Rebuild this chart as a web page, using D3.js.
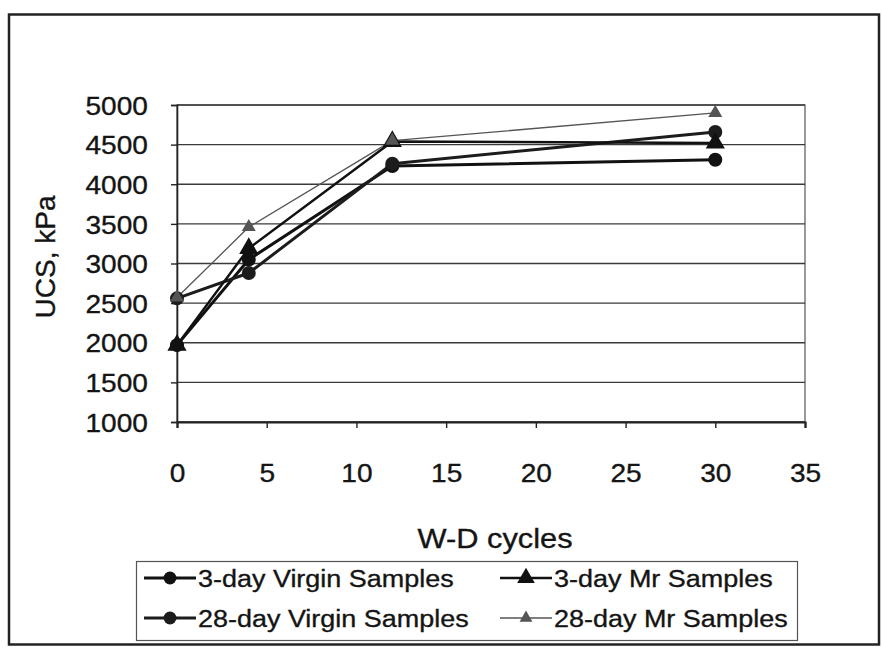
<!DOCTYPE html>
<html><head><meta charset="utf-8">
<script src="https://cdn.jsdelivr.net/npm/d3@7"></script>
<style>
html,body{margin:0;padding:0;background:#fff;}
text{font-family:"Liberation Sans",Arial,sans-serif;fill:#141414;stroke:#141414;stroke-width:0.35px;}
</style></head>
<body>
<svg id="chart" width="882" height="650"></svg>
<script>
const cycles = [0, 4, 12, 30];
const virgin3 = [1970, 3050, 4230, 4310];
const virgin28 = [2560, 2880, 4260, 4660];
const mr3 = [1970, 3190, 4540, 4520];
const mr28 = [2570, 3460, 4550, 4900];
const seriesNames = ["3-day Virgin Samples", "3-day Mr Samples", "28-day Virgin Samples", "28-day Mr Samples"];
const xTicks = [0, 5, 10, 15, 20, 25, 30, 35];
const yTicks = [1000, 1500, 2000, 2500, 3000, 3500, 4000, 4500, 5000];
const xTitle = "W-D cycles";
const yTitle = "UCS, kPa";

const series = [
  {name: seriesNames[0], values: virgin3, shape: "circle", color: "#111", width: 3, size: 7},
  {name: seriesNames[2], values: virgin28, shape: "circle", color: "#1c1c1c", width: 3, size: 7},
  {name: seriesNames[1], values: mr3, shape: "triangle", color: "#111", width: 2.5, size: 160},
  {name: seriesNames[3], values: mr28, shape: "triangle", color: "#555", width: 1.3, size: 85}
];

const svg = d3.select("#chart");
const SX = 1.1;
const L = 177, R = 805, T = 105, B = 422;
const x = d3.scaleLinear().domain([0, 35]).range([L, R]);
const y = d3.scaleLinear().domain([1000, 5000]).range([B, T]);

// outer frame
svg.append("rect").attr("x", 9).attr("y", 14.5).attr("width", 870).attr("height", 630)
  .attr("fill", "#fff").attr("stroke", "#222").attr("stroke-width", 2.5);

// plot border
svg.append("rect").attr("x", L).attr("y", T).attr("width", R - L).attr("height", B - T)
  .attr("fill", "none").attr("stroke", "#555").attr("stroke-width", 1.2);

// gridlines
svg.append("g").selectAll("line").data(yTicks).join("line")
  .attr("x1", L).attr("x2", R).attr("y1", d => y(d)).attr("y2", d => y(d))
  .attr("stroke", "#3a3a3a").attr("stroke-width", 1.4);

// y axis
const yAxis = svg.append("g").attr("transform", `translate(${L},0)`)
  .call(d3.axisLeft(y).tickValues(yTicks).tickSize(6).tickPadding(0).tickFormat(d3.format("d")));
yAxis.select(".domain").attr("stroke", "#222").attr("stroke-width", 1.6);
yAxis.selectAll(".tick line").attr("stroke", "#222").attr("stroke-width", 1.4);
yAxis.selectAll(".tick text")
  .attr("x", -26.5).attr("dy", "0.36em")
  .attr("transform", `scale(${SX},1)`)
  .style("font-size", "25.5px").style("font-family", "Liberation Sans, Arial, sans-serif");

// x axis
const xAxis = svg.append("g").attr("transform", `translate(0,${B})`)
  .call(d3.axisBottom(x).tickValues(xTicks).tickSize(6).tickPadding(0));
xAxis.select(".domain").attr("stroke", "#222").attr("stroke-width", 2.2);
xAxis.selectAll(".tick line").attr("stroke", "#222").attr("stroke-width", 1.4);
xAxis.selectAll(".tick text")
  .attr("y", 60).attr("dy", 0)
  .attr("transform", `scale(${SX},1)`)
  .style("font-size", "25.5px").style("font-family", "Liberation Sans, Arial, sans-serif");

// axis titles
svg.append("text").attr("transform", `translate(495,548) scale(${SX},1)`)
  .attr("text-anchor", "middle").style("font-size", "28px").text(xTitle);
svg.append("text").attr("transform", `translate(55,257) rotate(-90)`)
  .attr("text-anchor", "middle").style("font-size", "28px").text(yTitle);

// lines and markers
const line = d3.line().x((d, i) => x(cycles[i])).y(d => y(d));
const drawMarker = (g, s, cx, cy, scale) => {
  if (s.shape === "circle") {
    g.append("circle").attr("cx", cx).attr("cy", cy).attr("r", s.size * scale).attr("fill", s.color);
  } else {
    g.append("path").attr("transform", `translate(${cx},${cy})`)
      .attr("d", d3.symbol().type(d3.symbolTriangle).size(s.size * scale * scale)()).attr("fill", s.color);
  }
};
const plot = svg.append("g");
series.forEach(s => {
  plot.append("path").datum(s.values).attr("d", line)
    .attr("fill", "none").attr("stroke", s.color).attr("stroke-width", s.width)
    .attr("stroke-linejoin", "round");
});
series.forEach(s => {
  s.values.forEach((v, i) => drawMarker(plot, s, x(cycles[i]), y(v), 1));
});

// legend
const lg = svg.append("g");
lg.append("rect").attr("x", 136.5).attr("y", 561.5).attr("width", 661).attr("height", 79)
  .attr("fill", "#fff").attr("stroke", "#555").attr("stroke-width", 1.2);
const legendPos = [[144, 578], [500, 578], [144, 618], [500, 618]];
const legendList = seriesNames.map(n => series.find(s => s.name === n));
legendList.forEach((s, i) => {
  const [lx, ly] = legendPos[i];
  const w = 52;
  lg.append("line").attr("x1", lx).attr("x2", lx + w).attr("y1", ly).attr("y2", ly)
    .attr("stroke", s.color).attr("stroke-width", s.width);
  drawMarker(lg, s, lx + w / 2, ly, 0.92);
  lg.append("text").attr("transform", `translate(${lx + w + 2},${ly + 9}) scale(${SX},1)`)
    .style("font-size", "24.5px").text(s.name);
});
</script>
</body></html>
